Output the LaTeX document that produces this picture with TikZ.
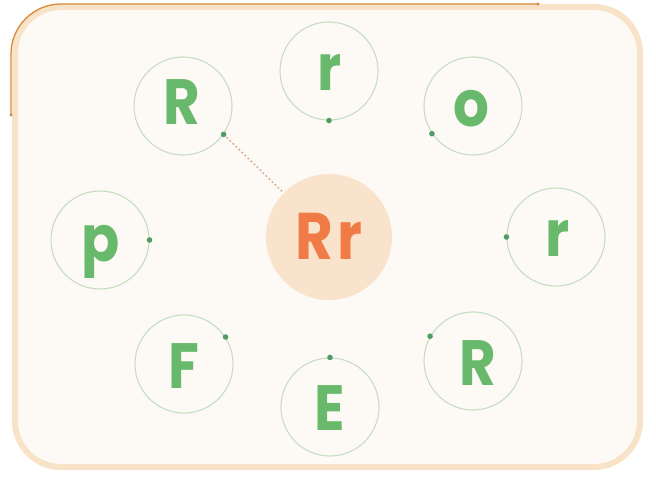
\documentclass[tikz,border=0pt]{standalone}
\usepackage{fontspec}
\setmainfont{Poppins}
\definecolor{framec}{HTML}{F8E3C8}
\definecolor{framedark}{HTML}{D9893A}
\definecolor{bgc}{HTML}{FDFAF5}
\definecolor{ringc}{HTML}{C6DEC0}
\definecolor{dotc}{HTML}{4F9C66}
\definecolor{letc}{HTML}{68B96C}
\definecolor{centc}{HTML}{FAE3CC}
\definecolor{orc}{HTML}{F07B46}
\definecolor{linkc}{HTML}{D8A584}
\newcommand{\narrow}[1]{\scalebox{0.88}[1]{#1}}
\begin{document}
\begin{tikzpicture}[x=1pt,y=-1pt,
  ring/.style={circle,draw=ringc,line width=1.1pt,minimum size=98pt,inner sep=0pt},
  letter/.style={anchor=base,inner sep=0pt,text=letc,font=\fontsize{64}{64}\selectfont\bfseries},
  gdot/.style={fill=dotc},
  centre/.style={circle,fill=centc,minimum size=126pt,inner sep=0pt},
  link/.style={draw=linkc,line width=1.4pt,dash pattern=on 1.8pt off 2.4pt}]
\useasboundingbox (0,0) rectangle (656,478);
\fill[white] (0,0) rectangle (656,478);
% frame
\draw[framec,line width=6pt,fill=bgc,rounded corners=46pt] (15,7) rectangle (640,467);
\coordinate (fa) at (11,115);
\coordinate (fb) at (538,4);
\draw[framedark,line width=1.3pt,rounded corners=50pt] (fa) -- (11,4) -- (fb);
\fill[framedark] (fa) circle (1.6pt);
\fill[framedark] (fb) circle (1.6pt);
% rings
\node[ring] (c1) at (183,106) {};
\node[ring] (c2) at (329,71) {};
\node[ring] (c3) at (473,106) {};
\node[ring] (c4) at (100,240) {};
\node[ring] (c5) at (556,237) {};
\node[ring] (c6) at (184,364) {};
\node[ring] (c7) at (330,407) {};
\node[ring] (c8) at (473,361) {};
% centre
\node[centre] (cc) at (329,237) {};
\node[anchor=base,inner sep=0pt,text=orc,font=\fontsize{66}{66}\selectfont\bfseries] (tc) at (329,260) {\narrow{R\kern5pt r}};
% letters
\node[letter] (t1) at (182,125) {\narrow{R}};
\node[letter] (t2) at (330,91) {\narrow{r}};
\node[letter] (t3) at (471,127) {\narrow{o}};
\node[letter] (t4) at (101,262) {\narrow{p}};
\node[letter] (t5) at (558,257) {\narrow{r}};
\node[letter] (t6) at (184,388) {\narrow{F}};
\node[letter] (t7) at (330,430) {\narrow{E}};
\node[letter] (t8) at (478,385) {\narrow{R}};
% dots
\coordinate (d1) at (c1.-35);
\coordinate (d2) at (c2.-90);
\coordinate (d3) at (c3.-146);
\coordinate (d4) at (c4.0);
\coordinate (d5) at (c5.180);
\coordinate (d6) at (c6.33);
\coordinate (d7) at (c7.90);
\coordinate (d8) at (c8.150);
\draw[link] (d1) -- (cc);
\foreach \d in {d1,d2,d3,d4,d5,d6,d7,d8} \fill[gdot] (\d) circle (2.8pt);
\end{tikzpicture}
\end{document}
